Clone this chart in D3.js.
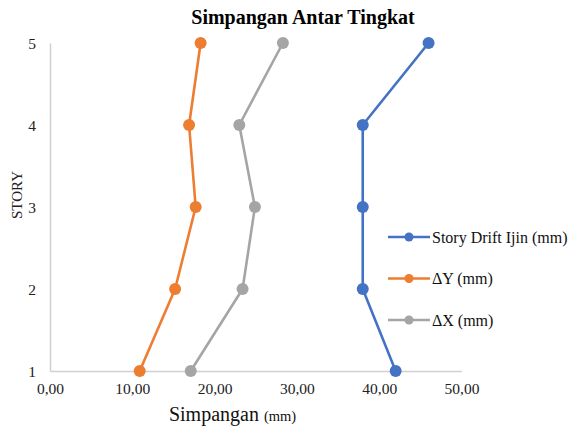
<!DOCTYPE html>
<html>
<head>
<meta charset="utf-8">
<script src="https://cdn.jsdelivr.net/npm/d3@7"></script>
<style>
  html, body { margin: 0; padding: 0; background: #fff; }
  svg { display: block; }
  svg text { font-family: 'Liberation Serif', 'Times New Roman', serif; }
</style>
</head>
<body>
<svg id="chart" width="569" height="430"></svg>
<script>
// Story levels (vertical axis)
const stories = [1, 2, 3, 4, 5];
// Allowable story drift (mm)
const driftIjin = [42.0, 38.0, 38.0, 38.0, 46.0];
// Inter-story drift in Y direction (mm)
const deltaY = [10.9, 15.2, 17.7, 16.9, 18.3];
// Inter-story drift in X direction (mm)
const deltaX = [17.1, 23.4, 24.9, 23.0, 28.3];
// Horizontal axis ticks
const xTicks = [0, 10, 20, 30, 40, 50];
const seriesNames = ["Story Drift Ijin (mm)", "\u0394Y (mm)", "\u0394X (mm)"];
const seriesColors = ["#4472C4", "#ED7D31", "#A5A5A5"];

const FONT = "'Liberation Serif', 'Times New Roman', serif";

const series = [driftIjin, deltaY, deltaX].map((vals, i) => ({
  name: seriesNames[i],
  color: seriesColors[i],
  points: stories.map((s, j) => ({ story: s, value: vals[j] }))
}));

const svg = d3.select("#chart");

const x = d3.scaleLinear().domain([0, 50]).range([50, 461.5]);
const y = d3.scaleLinear().domain([1, 5]).range([371, 43]);

// Title
svg.append("text")
  .attr("x", 303).attr("y", 24)
  .attr("text-anchor", "middle")
  .style("font-family", FONT)
  .style("font-size", "20px").style("font-weight", "bold")
  .attr("fill", "#000")
  .text("Simpangan Antar Tingkat");

// Axes
const xAxis = svg.append("g")
  .attr("transform", `translate(0,${y(1)})`)
  .call(d3.axisBottom(x).tickValues(xTicks).tickSize(0).tickPadding(12)
    .tickFormat(d => d3.format(".2f")(d).replace(".", ",")));
const yAxis = svg.append("g")
  .attr("transform", `translate(${x(0)},0)`)
  .call(d3.axisLeft(y).tickValues(stories).tickSize(0).tickPadding(14)
    .tickFormat(d3.format("d")));

[xAxis, yAxis].forEach(g => {
  g.select(".domain").attr("stroke", "#d0d0d0").attr("stroke-width", 1.5);
  g.selectAll("text")
    .style("font-family", FONT)
    .style("font-size", "15.5px").attr("fill", "#222");
});
yAxis.selectAll("text").attr("dy", "0.35em");

// Axis titles
const xTitle = svg.append("text")
  .attr("x", 232.5).attr("y", 421)
  .attr("text-anchor", "middle")
  .style("font-family", FONT)
  .attr("fill", "#111");
xTitle.append("tspan").style("font-size", "20px").text("Simpangan ");
xTitle.append("tspan").style("font-size", "14.5px").text("(mm)");

svg.append("text")
  .attr("transform", `translate(22,195) rotate(-90)`)
  .attr("text-anchor", "middle")
  .style("font-family", FONT)
  .style("font-size", "15px").attr("fill", "#222")
  .text("STORY");

// Lines and markers
const line = d3.line().x(d => x(d.value)).y(d => y(d.story));

const g = svg.selectAll(".series").data(series).join("g").attr("class", "series");
g.append("path")
  .attr("d", d => line(d.points))
  .attr("fill", "none")
  .attr("stroke", d => d.color)
  .attr("stroke-width", 2.6)
  .attr("stroke-linejoin", "round");
g.each(function (s) {
  d3.select(this).selectAll("circle").data(s.points).join("circle")
    .attr("cx", d => x(d.value))
    .attr("cy", d => y(d.story))
    .attr("r", 6)
    .attr("fill", s.color);
});

// Legend
const legendY = d3.scalePoint().domain(seriesNames).range([237, 320]);
const leg = svg.selectAll(".legend").data(series).join("g")
  .attr("class", "legend")
  .attr("transform", d => `translate(388,${legendY(d.name)})`);
leg.append("line")
  .attr("x1", 0).attr("x2", 42).attr("y1", 0).attr("y2", 0)
  .attr("stroke", d => d.color).attr("stroke-width", 2.6);
leg.append("circle")
  .attr("cx", 21).attr("cy", 0).attr("r", 4.5)
  .attr("fill", d => d.color);
leg.append("text")
  .attr("x", 44).attr("y", 0).attr("dy", "0.35em")
  .style("font-family", FONT)
  .style("font-size", "16px").attr("fill", "#111")
  .text(d => d.name);
</script>
</body>
</html>
